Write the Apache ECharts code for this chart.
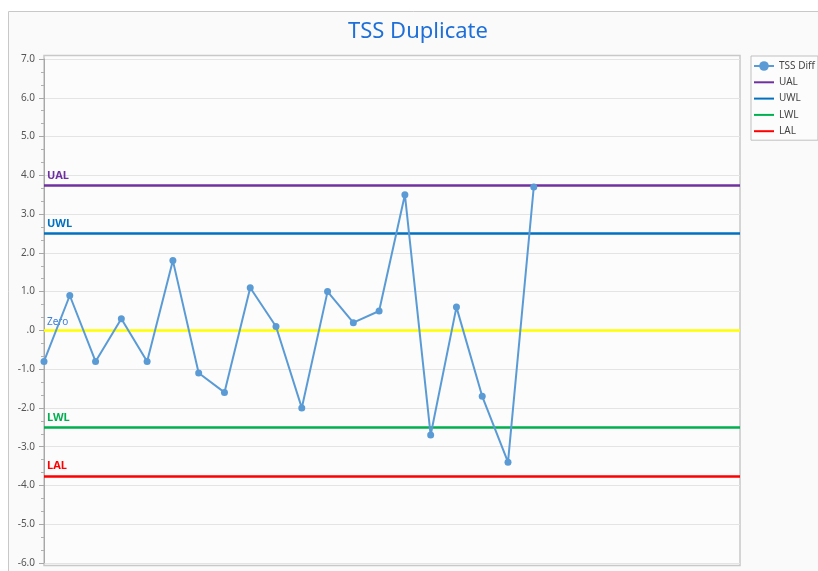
<!DOCTYPE html>
<html>
<head>
<meta charset="utf-8">
<script src="https://cdn.jsdelivr.net/npm/echarts@6/dist/echarts.min.js"></script>
<style>
html,body{margin:0;padding:0;background:#ffffff;}
#chart{width:818px;height:571px;}
</style>
</head>
<body>
<div id="chart"></div>
<script>
// ---- data ----
const sampleIdx = [0,1,2,3,4,5,6,7,8,9,10,11,12,13,14,15,16,17,18,19];
const tssDiff = [-0.8,0.9,-0.8,0.3,-0.8,1.8,-1.1,-1.6,1.1,0.1,-2.0,1.0,0.2,0.5,3.5,-2.7,0.6,-1.7,-3.4,3.7];
const limitNames = ['UAL','UWL','LWL','LAL'];
const limitValues = [3.75, 2.5, -2.5, -3.75];
const zeroValue = 0;
const yMin = -6, yMax = 7, yStep = 1;
const xMin = 0, xMax = 27;

// ---- styles ----
const limitColors = ['#7030A0','#0070C0','#00B050','#FF0000'];
const FONT = 'Noto Sans';

const chart = echarts.init(document.getElementById('chart'), null, {renderer:'canvas'});

const limitSeries = limitNames.map((n, i) => ({
  name: n,
  type: 'line',
  data: [],
  symbol: 'none',
  itemStyle: {color: limitColors[i]},
  lineStyle: {color: limitColors[i], width: 2.5},
  z: 3,
  markLine: {
    silent: true,
    symbol: 'none',
    animation: false,
    lineStyle: {color: limitColors[i], width: 2.5, type: 'solid'},
    label: {
      show: true, position: 'insideStartTop', formatter: n,
      color: limitColors[i], fontFamily: FONT, fontWeight: 'bold', fontSize: 11,
      distance: [3, 4]
    },
    emphasis: {disabled: true},
    data: [{yAxis: limitValues[i]}]
  }
}));

const option = {
  animation: false,
  backgroundColor: '#ffffff',
  graphic: [
    {type:'rect', z:-10, shape:{x:8.5, y:11.5, width:830, height:580},
     style:{fill:'#FAFAFA', stroke:'#C8C8C8', lineWidth:1}},
    {type:'rect', z:-9, shape:{x:44, y:55.5, width:696, height:510},
     style:{fill:'#FCFCFC', stroke:'#C8C8C8', lineWidth:1.5}}
  ],
  title: {
    text: 'TSS Duplicate', left: 343, top: 16,
    textStyle: {color:'#1F6FD8', fontFamily: FONT, fontSize: 22, fontWeight: 'normal'}
  },
  legend: {
    orient: 'vertical', left: 751, top: 56,
    padding: [5, 3, 4, 2],
    itemWidth: 20, itemHeight: 12, itemGap: 6.3,
    backgroundColor: '#FCFCFC', borderColor: '#C0C0C0', borderWidth: 1, borderRadius: 0,
    textStyle: {color:'#444', fontFamily: FONT, fontSize: 10},
    data: [{name: 'TSS Diff'}].concat(limitNames.map(n => ({name: n, itemStyle: {opacity: 0}})))
  },
  grid: {left: 44, right: 78, top: 59, bottom: 8, containLabel: false},
  xAxis: {
    type: 'value', min: xMin, max: xMax,
    axisLine: {show:false}, axisTick: {show:false}, axisLabel: {show:false}, splitLine: {show:false}
  },
  yAxis: {
    type: 'value', min: yMin, max: yMax, interval: yStep,
    axisLine: {show: true, lineStyle: {color:'#A8A8A8', width: 1}},
    axisTick: {show: true, length: 5, lineStyle: {color:'#A8A8A8'}},
    minorTick: {show: true, splitNumber: 3, length: 3, lineStyle: {color:'#B0B0B0'}},
    splitLine: {show: true, lineStyle: {color:'#E4E4E4', width: 1}},
    axisLabel: {
      color:'#555', fontFamily: FONT, fontSize: 10, margin: 9,
      formatter: v => v === 0 ? '.0' : v.toFixed(1)
    }
  },
  series: [
    {
      name: 'Zero', type: 'line', data: [], symbol: 'none', z: 2,
      itemStyle: {color:'#FFFF00'},
      markLine: {
        silent: true, symbol: 'none', animation: false,
        lineStyle: {color:'#FFFF00', width: 2.5, type:'solid'},
        label: {show:true, position:'insideStartTop', formatter:'Zero',
                color:'#3F7FD8', fontFamily: FONT, fontSize: 10, distance: [3, 3]},
        emphasis: {disabled: true},
        data: [{yAxis: zeroValue}]
      }
    }
  ].concat(limitSeries).concat([
    {
      name: 'TSS Diff', type: 'line', z: 5,
      data: sampleIdx.map((x, i) => [x, tssDiff[i]]),
      symbol: 'circle', symbolSize: 7, showSymbol: true,
      itemStyle: {color:'#5B9BD5'},
      lineStyle: {color:'#5B9BD5', width: 2}
    }
  ])
};
chart.setOption(option);
</script>
</body>
</html>
